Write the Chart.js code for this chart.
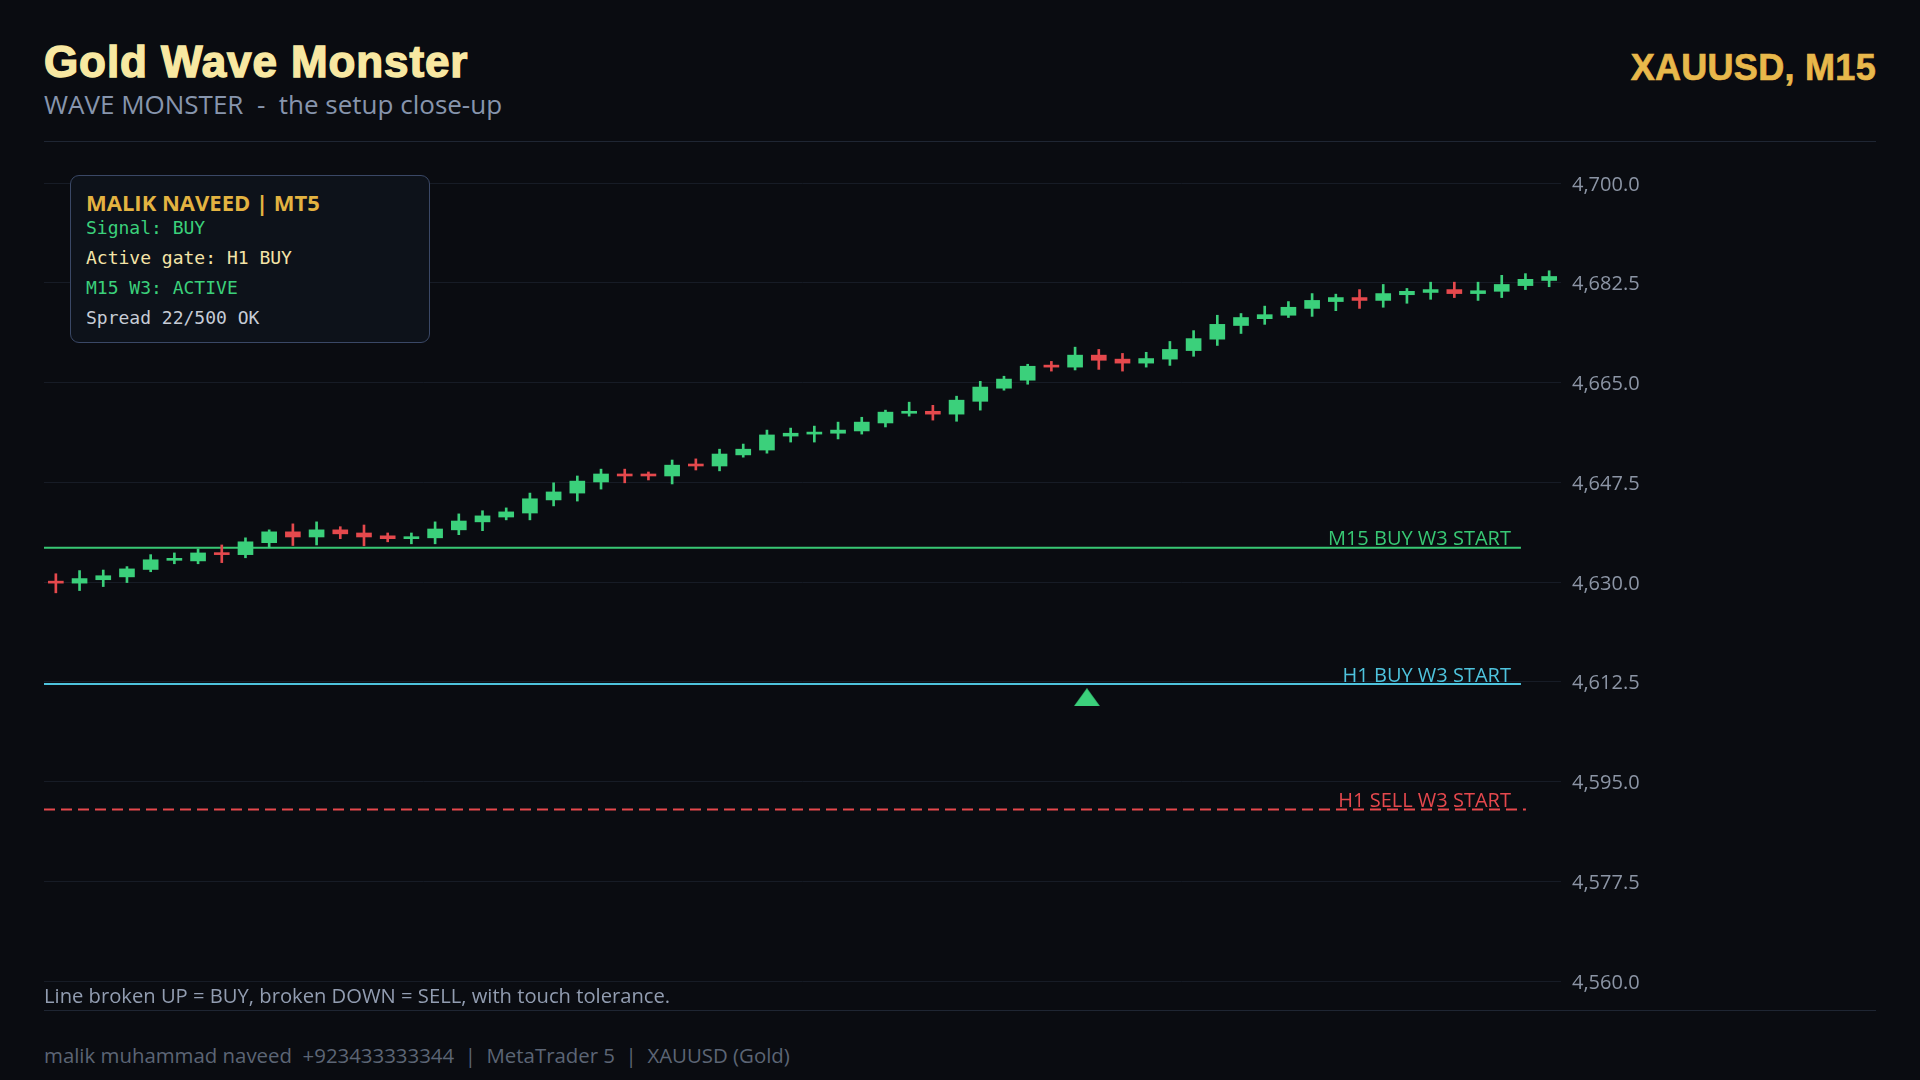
<!DOCTYPE html>
<html>
<head>
<meta charset="utf-8">
<script src="https://cdn.jsdelivr.net/npm/chart.js@4.4.1/dist/chart.umd.min.js"></script>
<style>
html,body{margin:0;padding:0;background:#0a0c11;width:1920px;height:1080px;overflow:hidden;}
.abs{position:absolute;white-space:pre;}
#title{left:44px;top:40px;font:bold 44px "Liberation Sans",Arial,sans-serif;line-height:44px;color:#f8e8a2;-webkit-text-stroke:1.4px #f8e8a2;letter-spacing:0.9px;}
#sub{left:44px;top:91px;font:26px "Open Sans",sans-serif;line-height:26px;color:#8795ad;}
#sym{right:44px;top:50px;font:bold 36px "Liberation Sans",Arial,sans-serif;line-height:36px;color:#e8b84b;-webkit-text-stroke:0.7px #e8b84b;letter-spacing:0.3px;}
.sep{position:absolute;left:44px;width:1832px;height:1px;background:#1f2633;}
#wrap{position:absolute;left:44px;top:160px;width:1832px;height:844px;}
#box{position:absolute;left:70px;top:175px;width:360px;height:168px;box-sizing:border-box;border:1px solid #3a4866;border-radius:9px;background:#0d121a;}
#box div{position:absolute;left:15px;white-space:pre;}
.bt{font:bold 22px "Open Sans",sans-serif;line-height:22px;color:#e3b341;}
.mono{font:18px "DejaVu Sans Mono",monospace;line-height:18px;}
#note{left:44px;top:985px;font:20.2px "Open Sans",sans-serif;line-height:20px;color:#929db1;}
#foot{left:44px;top:1045px;font:20.4px "Open Sans",sans-serif;line-height:20px;color:#5c6575;}
</style>
</head>
<body>
<div id="title" class="abs">Gold Wave Monster</div>
<div id="sub" class="abs">WAVE MONSTER  -  the setup close-up</div>
<div id="sym" class="abs">XAUUSD, M15</div>
<div class="sep" style="top:141px"></div>
<div id="wrap"><canvas id="c" width="1832" height="844"></canvas></div>
<div id="box">
  <div class="bt" style="top:15px">MALIK NAVEED | MT5</div>
  <div class="mono" style="top:43px;color:#3bd07b">Signal: BUY</div>
  <div class="mono" style="top:73px;color:#f4e4a8">Active gate: H1 BUY</div>
  <div class="mono" style="top:103px;color:#3bd07b">M15 W3: ACTIVE</div>
  <div class="mono" style="top:133px;color:#c6ccd6">Spread 22/500 OK</div>
</div>
<div id="note" class="abs">Line broken UP = BUY, broken DOWN = SELL, with touch tolerance.</div>
<div class="sep" style="top:1010px"></div>
<div id="foot" class="abs">malik muhammad naveed  +923433333344  |  MetaTrader 5  |  XAUUSD (Gold)</div>
<script>
// ---- data ----
const opens  = [4630.05,4629.8,4630.4,4630.9,4632.2,4633.8,4633.7,4635.1,4634.8,4636.9,4638.8,4637.9,4639.15,4638.6,4638.1,4637.6,4637.75,4639.15,4640.55,4641.4,4642.1,4644.4,4645.6,4647.55,4648.95,4648.8,4648.6,4650.5,4650.35,4652.3,4653.15,4655.6,4655.95,4656.1,4656.5,4657.9,4659.6,4659.95,4659.45,4661.7,4664.0,4665.4,4668.0,4667.7,4669.8,4669.1,4668.4,4669.1,4670.6,4672.6,4675.0,4676.2,4676.8,4678.0,4679.2,4679.9,4679.4,4680.4,4680.8,4681.3,4680.6,4681.0,4682.0,4682.9];
const highs  = [4631.45,4632.0,4632.1,4632.7,4634.8,4635.1,4635.8,4636.5,4637.75,4639.15,4640.2,4640.55,4639.7,4640.0,4638.6,4638.6,4640.55,4641.95,4642.5,4643.0,4645.6,4647.4,4648.6,4649.8,4649.8,4649.3,4651.4,4651.6,4653.3,4654.2,4656.65,4657.0,4657.35,4658.05,4658.9,4660.15,4661.55,4661.0,4662.6,4665.2,4666.1,4668.2,4668.7,4671.2,4670.8,4670.1,4670.3,4672.2,4674.1,4676.8,4677.1,4678.4,4679.2,4680.6,4680.5,4681.3,4682.2,4681.5,4682.6,4682.6,4682.6,4683.8,4684.1,4684.6];
const lows   = [4628.1,4628.5,4629.2,4629.9,4631.8,4633.2,4633.2,4633.4,4634.25,4636.0,4636.4,4636.5,4637.6,4636.35,4637.05,4636.7,4636.7,4638.3,4639.0,4640.9,4640.9,4643.35,4644.2,4646.3,4647.4,4647.9,4647.2,4649.65,4649.5,4651.9,4652.6,4654.55,4654.55,4655.1,4655.95,4657.2,4659.1,4658.4,4658.2,4660.15,4663.65,4664.7,4667.0,4667.2,4667.3,4667.0,4667.7,4668.0,4669.6,4671.5,4673.6,4675.2,4676.4,4676.6,4677.6,4678.0,4678.2,4678.9,4679.6,4679.9,4679.4,4679.9,4681.3,4681.8];
const closes = [4629.8,4630.6,4631.1,4632.3,4633.9,4633.9,4635.1,4634.8,4637.05,4638.8,4637.9,4639.15,4638.45,4637.9,4637.6,4637.9,4639.3,4640.7,4641.6,4642.3,4644.6,4645.8,4647.7,4648.95,4648.6,4648.6,4650.5,4650.35,4652.45,4653.3,4655.8,4656.1,4656.3,4656.65,4658.05,4659.8,4659.95,4659.45,4661.9,4664.2,4665.6,4667.85,4667.7,4669.8,4668.9,4668.4,4669.2,4670.8,4672.7,4675.2,4676.4,4676.9,4678.2,4679.4,4679.9,4679.4,4680.6,4681.0,4681.3,4680.6,4681.1,4682.2,4683.1,4683.6];
const yTicks = [4560,4577.5,4595,4612.5,4630,4647.5,4665,4682.5,4700];
const levelNames  = ['M15 BUY W3 START','H1 BUY W3 START','H1 SELL W3 START'];
const levelValues = [4636.0, 4612.1, 4590.1];
const levelEnds   = [61.81, 61.81, 62.02];
const signalX = [43.5];
const signalY = [4609.8];

// ---- styles ----
const UP = '#3bd07b', DOWN = '#e5494d';
const levelColors = ['#38c874','#4ec3dd','#e5484d'];
const levelDash = [[],[],[11,6]];

const triImg = document.createElement('canvas');
triImg.width = 26; triImg.height = 18;
{ const t = triImg.getContext('2d'); t.fillStyle = UP; t.beginPath(); t.moveTo(0,18); t.lineTo(13,0); t.lineTo(26,18); t.closePath(); t.fill(); }

const colorOf = i => closes[i] >= opens[i] ? UP : DOWN;

const datasets = [];
levelValues.forEach((v,i)=>{
  datasets.push({type:'line', data:[{x:-0.5,y:v},{x:levelEnds[i],y:v}], borderColor:levelColors[i], borderWidth:2, borderDash:levelDash[i], pointRadius:0, order:5, tension:0});
});
datasets.push({type:'bar', data:lows.map((l,i)=>({x:i,y:[l,highs[i]]})), backgroundColor:c=>colorOf(c.dataIndex), barThickness:2, grouped:false, order:3, borderWidth:0});
datasets.push({type:'bar', data:opens.map((o,i)=>({x:i,y:[o,closes[i]]})), backgroundColor:c=>colorOf(c.dataIndex), barThickness:15, grouped:false, order:2, borderWidth:0, minBarLength:2});
datasets.push({type:'line', data:signalX.map((x,i)=>({x:x,y:signalY[i]})), showLine:false, pointStyle:triImg, pointRadius:13, order:0});

const levelPlugin = {
  id:'levelLabels',
  afterDatasetsDraw(chart){
    const ctx = chart.ctx, xs = chart.scales.x, ys = chart.scales.y;
    ctx.save();
    ctx.font = '20px "Open Sans"';
    ctx.textAlign = 'right';
    ctx.textBaseline = 'alphabetic';
    const xr = xs.getPixelForValue(levelEnds[0]) - 10;
    levelNames.forEach((n,i)=>{
      ctx.fillStyle = levelColors[i];
      ctx.fillText(n, xr, ys.getPixelForValue(levelValues[i]) - 2.5);
    });
    ctx.restore();
  }
};

new Chart(document.getElementById('c'), {
  type:'bar',
  data:{datasets},
  plugins:[levelPlugin],
  options:{
    responsive:false, animation:false, devicePixelRatio:1,
    layout:{autoPadding:false, padding:{top:20.3,bottom:20,left:0,right:0}},
    plugins:{legend:{display:false}, tooltip:{enabled:false}},
    scales:{
      x:{type:'linear', min:-0.5, max:63.5, display:false, offset:false},
      y:{type:'linear', position:'right', min:4560, max:4700,
         afterBuildTicks:s=>{ s.ticks = yTicks.map(v=>({value:v})); },
         afterFit:s=>{ s.width = 315; },
         grid:{color:'#171c26', lineWidth:1, drawTicks:false},
         border:{display:false},
         ticks:{padding:11, labelOffset:2, color:'#8c95a5', font:{family:'Open Sans', size:20},
           callback:v=>Number(v).toLocaleString('en-US',{minimumFractionDigits:1,maximumFractionDigits:1})}
      }
    }
  }
});
</script>
</body>
</html>
